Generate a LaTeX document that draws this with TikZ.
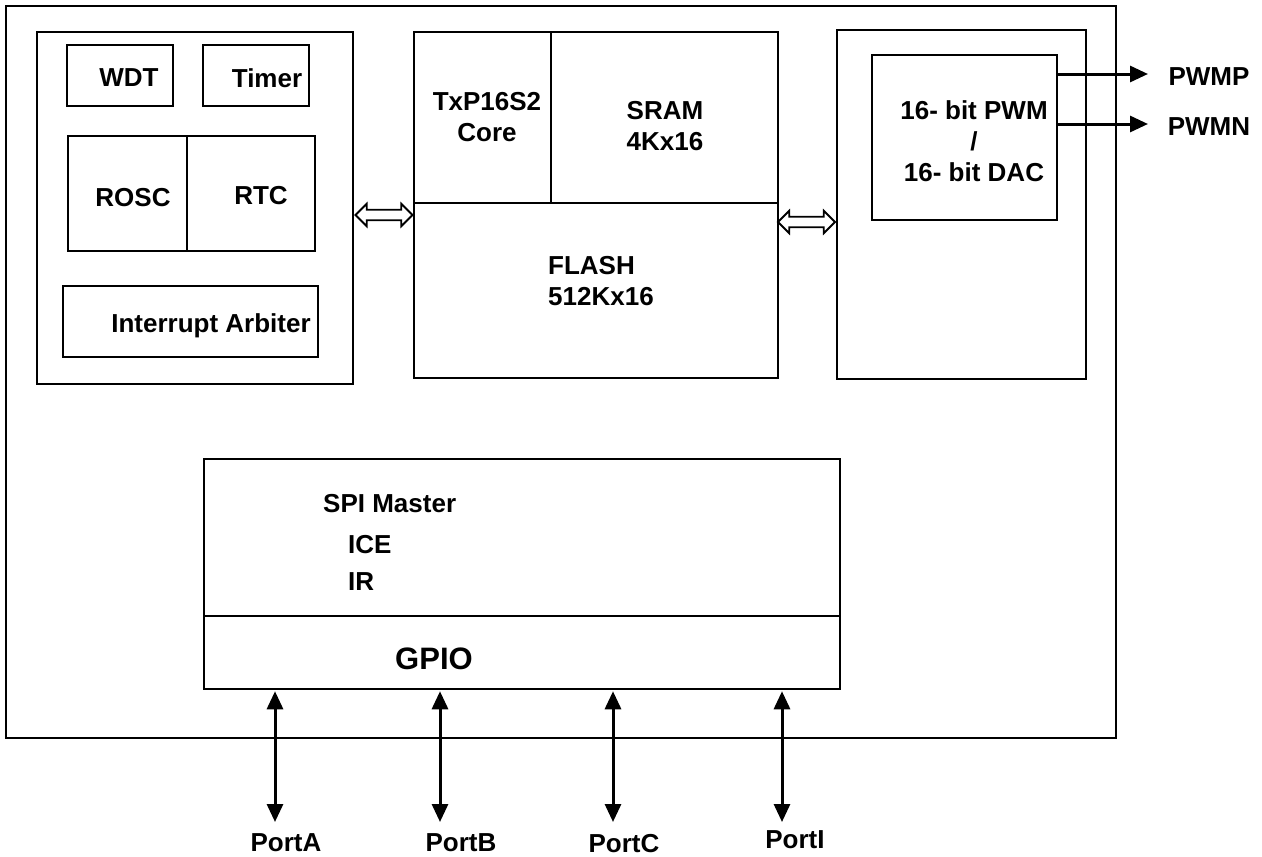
\documentclass[tikz,border=0pt]{standalone}
\usepackage{fontspec}
\setmainfont{Liberation Sans}
\usetikzlibrary{shapes.arrows,arrows.meta}
\begin{document}
\begin{tikzpicture}[x=1pt, y=-1pt, line join=miter,
		blk/.style={draw, line width=1.5pt, inner sep=0pt},
		lbl/.style={font=\bfseries\fontsize{26}{31}\selectfont, inner sep=0pt, align=center, text depth=0pt},
		port/.style={line width=3pt, {Triangle[length=18pt,width=16pt]}-{Triangle[length=18pt,width=16pt]}},
		sig/.style={line width=3pt, -{Triangle[length=18pt,width=16pt]}},
		bus/.style={double arrow, draw, line width=1.8pt, fill=white, inner sep=4.3pt, minimum height=57pt, double arrow head extend=6pt}]
		\useasboundingbox (0,0) rectangle (1262,857);
		\node[blk, line width=2pt, minimum width=1110pt, minimum height=732pt] (chip) at (561,372) {};
		% left block
		\node[blk, minimum width=316pt, minimum height=352pt] (leftblk) at (195,208) {};
		\node[blk, minimum width=106pt, minimum height=61pt] (wdt) at (120,75.5) {};
		\node[blk, minimum width=106pt, minimum height=61pt] (tmr) at (256,75.5) {};
		\node[blk, minimum width=247pt, minimum height=115pt] (osc) at (191.5,193.5) {};
		\draw[line width=1.5pt] (187,0 |- osc.north) -- (187,0 |- osc.south);
		\node[blk, minimum width=255pt, minimum height=71pt] (irq) at (190.5,321.5) {};
		\node[lbl] (wdttxt) at (129,78) {WDT};
		\node[lbl] (tmrtxt) at (267,78) {Timer};
		\node[lbl] (rosc) at (133,197) {ROSC};
		\node[lbl] (rtc) at (261,195) {RTC};
		\node[lbl] (irqtxt) at (211,323) {Interrupt Arbiter};
		% core and memories
		\node[blk, minimum width=364pt, minimum height=346pt] (midblk) at (596,205) {};
		\draw[line width=1.5pt] (midblk.west |- 0,203) -- (midblk.east |- 0,203);
		\draw[line width=1.5pt] (551,0 |- midblk.north) -- (551,203);
		\node[lbl] (core) at (487,117) {TxP16S2\\Core};
		\node[lbl] (sram) at (665,126) {SRAM\\4Kx16};
		\node[lbl, align=left, anchor=west] (flash) at (548,281) {FLASH\\512Kx16};
		% pwm / dac
		\node[blk, minimum width=249pt, minimum height=349pt] (rightblk) at (961.5,204.5) {};
		\node[blk, minimum width=185pt, minimum height=165pt] (pwm) at (964.5,137.5) {};
		\node[lbl] (pwmtxt) at (974,141) {16- bit PWM\\/\\16- bit DAC};
		\node[lbl] (pwmp) at (1209,77) {PWMP};
		\node[lbl] (pwmn) at (1209,127) {PWMN};
		\coordinate (pp) at (1148,74);
		\coordinate (pn) at (1148,124);
		\draw[sig] (pwm.east |- pp) -- (pp);
		\draw[sig] (pwm.east |- pn) -- (pn);
		% buses
		\node[bus] (busL) at (384,215) {};
		\node[bus] (busR) at (806.5,222) {};
		% spi / gpio
		\node[blk, minimum width=636pt, minimum height=230pt] (spi) at (522,574) {};
		\draw[line width=1.5pt] (spi.west |- 0,616) -- (spi.east |- 0,616);
		\node[lbl, anchor=west] (spim) at (323,503) {SPI Master};
		\node[lbl, anchor=west] (ice) at (348,544) {ICE};
		\node[lbl, anchor=west] (ir) at (348,582) {IR};
		\node[lbl, font=\bfseries\fontsize{31}{36}\selectfont] (gpio) at (434,659) {GPIO};
		% ports
		\coordinate (pa) at (275,822);
		\coordinate (pb) at (440,822);
		\coordinate (pc) at (613,822);
		\coordinate (pi) at (782,822);
		\foreach \p in {pa,pb,pc,pi}
			\draw[port, shorten <=1.5pt] (\p |- spi.south) -- (\p);
		\node[lbl] (portA) at (286,843) {PortA};
		\node[lbl] (portB) at (461,843) {PortB};
		\node[lbl] (portC) at (624,843) {PortC};
		\node[lbl] (portI) at (795,840) {PortI};
\end{tikzpicture}
\end{document}
